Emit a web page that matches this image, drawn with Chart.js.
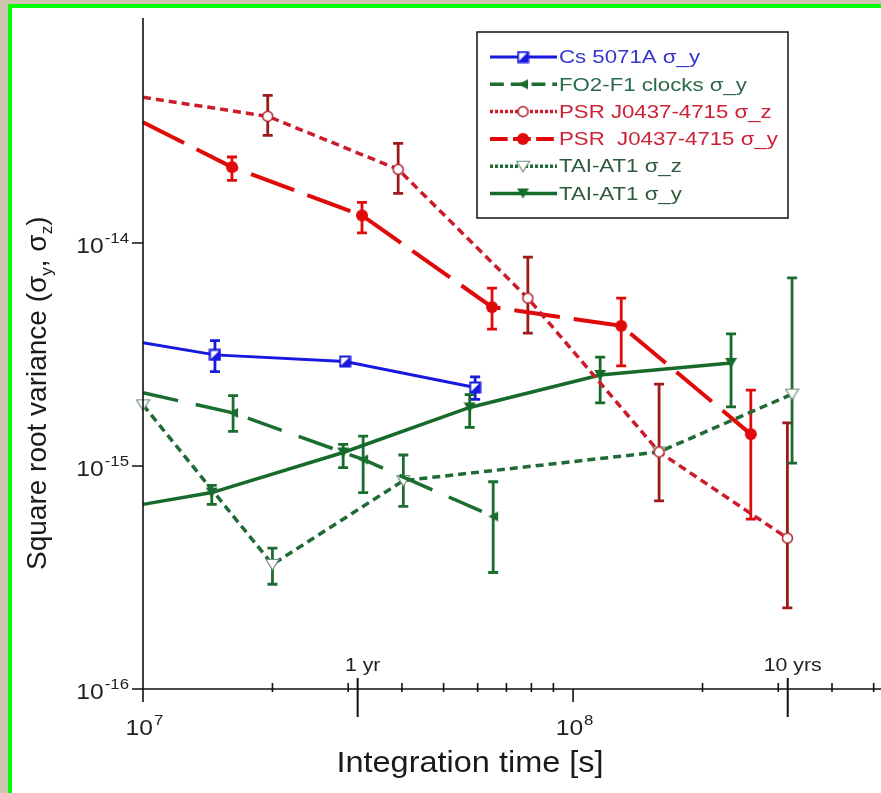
<!DOCTYPE html>
<html>
<head>
<meta charset="utf-8">
<title>Square root variance vs integration time</title>
<script src="https://cdn.jsdelivr.net/npm/chart.js@4.4.1/dist/chart.umd.min.js"></script>
<style>
	html, body { margin: 0; padding: 0; background: #cdc5ae; }
	#frame {
		position: absolute; left: 8px; top: 4px; width: 873px; height: 789px;
		box-sizing: border-box; background: #fff;
		border-left: 4px solid #00ff00; border-top: 4px solid #00ff00;
	}
	#plot { position: absolute; left: 0; top: 0; }
</style>
</head>
<body>
<div id="frame"></div>
<canvas id="plot" width="881" height="793"></canvas>
<script>
// integration time [s] and square root variance for each curve
const csX = [ 1e7, 1.47e7, 2.95e7, 5.92e7 ]
const csY = [ 3.57e-15, 3.15e-15, 2.94e-15, 2.25e-15 ]
const csLow = [ null, 2.65e-15, null, 1.99e-15 ]
const csHigh = [ null, 3.65e-15, null, 2.51e-15 ]

const fo2X = [ 1e7, 1.62e7, 3.25e7, 6.52e7 ]
const fo2Y = [ 2.13e-15, 1.73e-15, 1.07e-15, 5.94e-16 ]
const fo2Low = [ null, 1.43e-15, 7.6e-16, 3.33e-16 ]
const fo2High = [ null, 2.07e-15, 1.36e-15, 8.5e-16 ]

const psrZX = [ 1e7, 1.95e7, 3.92e7, 7.85e7, 1.585e8, 3.15e8 ]
const psrZY = [ 4.5e-14, 3.7e-14, 2.14e-14, 5.66e-15, 1.156e-15, 4.75e-16 ]
const psrZLow = [ null, 3.04e-14, 1.67e-14, 3.94e-15, 6.97e-16, 2.31e-16 ]
const psrZHigh = [ null, 4.59e-14, 2.8e-14, 8.65e-15, 2.33e-15, 1.56e-15 ]

const psrYX = [ 1e7, 1.61e7, 3.23e7, 6.48e7, 1.294e8, 2.59e8 ]
const psrYY = [ 3.48e-14, 2.19e-14, 1.33e-14, 5.16e-15, 4.25e-15, 1.39e-15 ]
const psrYLow = [ null, 1.91e-14, 1.11e-14, 4.11e-15, 2.81e-15, 5.78e-16 ]
const psrYHigh = [ null, 2.43e-14, 1.52e-14, 6.28e-15, 5.66e-15, 2.19e-15 ]

const taiZX = [ 1e7, 2.0e7, 4.03e7, 1.585e8, 3.23e8 ]
const taiZY = [ 1.88e-15, 3.62e-16, 8.6e-16, 1.156e-15, 2.1e-15 ]
const taiZLow = [ null, 2.95e-16, 6.59e-16, null, 1.03e-15 ]
const taiZHigh = [ null, 4.28e-16, 1.12e-15, null, 6.97e-15 ]

const taiYX = [ 1e7, 1.445e7, 2.92e7, 5.75e7, 1.156e8, 2.33e8 ]
const taiYY = [ 6.73e-16, 7.6e-16, 1.15e-15, 1.83e-15, 2.56e-15, 2.9e-15 ]
const taiYLow = [ null, 6.73e-16, 9.84e-16, 1.49e-15, 1.92e-15, 1.84e-15 ]
const taiYHigh = [ null, 8.19e-16, 1.25e-15, 2.09e-15, 3.08e-15, 3.91e-15 ]

// axis ticks
const xMajorTicks = [ 1e7, 1e8 ]
const xMinorTicks = [ 2e7, 3e7, 4e7, 5e7, 6e7, 7e7, 8e7, 9e7, 2e8, 3e8, 4e8, 5e8 ]
const yTicks = [ 1e-16, 1e-15, 1e-14 ]
const yearTicks = [ 3.156e7, 3.156e8 ]
const yearLabels = [ '1 yr', '10 yrs' ]

const FONT = '"Liberation Sans", Arial, sans-serif'
const WIDEN = 1.12 // horizontal text is drawn a little wide

const makeMarker = (w, h, draw) => {
	const c = document.createElement( 'canvas' )
	c.width = w
	c.height = h
	draw( c.getContext( '2d' ), w, h )
	return c
}

const csMarker = makeMarker( 13, 13, (g) => {
	g.fillStyle = '#fff'
	g.fillRect( 1, 1, 11, 11 )
	g.fillStyle = '#1818e0'
	g.beginPath()
	g.moveTo( 12, 1 ); g.lineTo( 12, 12 ); g.lineTo( 1, 12 ); g.closePath()
	g.fill()
	g.strokeStyle = '#1818e0'
	g.lineWidth = 2
	g.strokeRect( 1.5, 1.5, 10, 10 )
} )
const fo2Marker = makeMarker( 12, 12, (g) => {
	g.fillStyle = '#1a6e30'
	g.beginPath()
	g.moveTo( 1, 6 ); g.lineTo( 11, 1 ); g.lineTo( 11, 11 ); g.closePath()
	g.fill()
} )
const psrZMarker = makeMarker( 13, 13, (g) => {
	g.fillStyle = '#fff'
	g.strokeStyle = '#b0202a'
	g.lineWidth = 1.5
	g.beginPath()
	g.arc( 6.5, 6.5, 5, 0, Math.PI * 2 )
	g.fill()
	g.stroke()
} )
const psrYMarker = makeMarker( 14, 14, (g) => {
	g.fillStyle = '#e00a0a'
	g.beginPath()
	g.arc( 7, 7, 6, 0, Math.PI * 2 )
	g.fill()
} )
const taiZMarker = makeMarker( 15, 13, (g) => {
	g.fillStyle = '#fff'
	g.strokeStyle = '#6f8f76'
	g.lineWidth = 1.2
	g.beginPath()
	g.moveTo( 1, 1.5 ); g.lineTo( 14, 1.5 ); g.lineTo( 7.5, 12 ); g.closePath()
	g.fill()
	g.stroke()
} )
const taiYMarker = makeMarker( 13, 12, (g) => {
	g.fillStyle = '#166b2a'
	g.beginPath()
	g.moveTo( 0.5, 1 ); g.lineTo( 12.5, 1 ); g.lineTo( 6.5, 11 ); g.closePath()
	g.fill()
} )

const points = (xs, ys) => xs.map( (x, i) => ({ x, y: ys[i] }) )
// the curves enter from the left edge; their first point has no marker
const hideFirst = (r) => (ctx) => ctx.dataIndex === 0 ? 0 : r

const datasets = [
	{
		label: 'Cs 5071A σ_y',
		data: points( csX, csY ),
		borderColor: '#1818e0',
		borderWidth: 3,
		pointStyle: csMarker,
		pointRadius: hideFirst( 6 ),
		errLow: csLow, errHigh: csHigh, errColor: '#1818e0',
		legendColor: '#3535d0'
	},
	{
		label: 'FO2-F1 clocks σ_y',
		data: points( fo2X, fo2Y ),
		borderColor: '#1a6e30',
		borderWidth: 3.5,
		borderDash: [ 36, 18 ],
		pointStyle: fo2Marker,
		pointRadius: hideFirst( 6 ),
		errLow: fo2Low, errHigh: fo2High, errColor: '#1a6e30',
		legendColor: '#2a6a4a'
	},
	{
		label: 'PSR J0437-4715 σ_z',
		data: points( psrZX, psrZY ),
		borderColor: '#cc1c2c',
		borderWidth: 3.5,
		borderDash: [ 8, 5 ],
		pointStyle: psrZMarker,
		pointRadius: hideFirst( 6 ),
		errLow: psrZLow, errHigh: psrZHigh, errColor: '#9c1a1a',
		legendColor: '#cc2233'
	},
	{
		label: 'PSR  J0437-4715 σ_y',
		data: points( psrYX, psrYY ),
		borderColor: '#e00a0a',
		borderWidth: 4,
		borderDash: [ 46, 14 ],
		pointStyle: psrYMarker,
		pointRadius: hideFirst( 6 ),
		errLow: psrYLow, errHigh: psrYHigh, errColor: '#e00a0a',
		legendColor: '#cc2233'
	},
	{
		label: 'TAI-AT1 σ_z',
		data: points( taiZX, taiZY ),
		borderColor: '#1f6a35',
		borderWidth: 3.5,
		borderDash: [ 8, 5 ],
		pointStyle: taiZMarker,
		pointRadius: 6,
		errLow: taiZLow, errHigh: taiZHigh, errColor: '#1f6a35',
		legendColor: '#2f5a3a'
	},
	{
		label: 'TAI-AT1 σ_y',
		data: points( taiYX, taiYY ),
		borderColor: '#166b2a',
		borderWidth: 3.5,
		pointStyle: taiYMarker,
		pointRadius: hideFirst( 6 ),
		errLow: taiYLow, errHigh: taiYHigh, errColor: '#166b2a',
		legendColor: '#2f5a3a'
	}
]

const errorBars = {
	id: 'errorBars',
	beforeDatasetsDraw (chart) {
		const { ctx, scales: { x, y } } = chart
		datasets.forEach( (ds) => {
			ctx.save()
			ctx.strokeStyle = ds.errColor
			ctx.lineWidth = 2.8
			ds.data.forEach( (p, i) => {
				const lo = ds.errLow[i]
				const hi = ds.errHigh[i]
				if (lo == null) return
				const px = x.getPixelForValue( p.x )
				const y1 = y.getPixelForValue( hi )
				const y2 = y.getPixelForValue( lo )
				ctx.beginPath()
				ctx.moveTo( px, y1 ); ctx.lineTo( px, y2 )
				ctx.moveTo( px - 5, y1 ); ctx.lineTo( px + 5, y1 )
				ctx.moveTo( px - 5, y2 ); ctx.lineTo( px + 5, y2 )
				ctx.stroke()
			} )
			ctx.restore()
		} )
	}
}

// text stretched sideways, anchored at its left end
const wideText = (ctx, t, x, y, k = WIDEN) => {
	ctx.save()
	ctx.translate( x, y )
	ctx.scale( k, 1 )
	ctx.textAlign = 'left'
	ctx.fillText( t, 0, 0 )
	ctx.restore()
	return ctx.measureText( t ).width * k
}
const wideWidth = (ctx, t, k = WIDEN) => ctx.measureText( t ).width * k

// draws "10" with a raised exponent
const drawPower = (ctx, v, xPos, yPos, align) => {
	const exp = String( Math.round( Math.log10( v ) ) )
	ctx.font = '22px ' + FONT
	const bw = wideWidth( ctx, '10' )
	ctx.font = '15px ' + FONT
	const sw = wideWidth( ctx, exp )
	let left = align === 'right' ? xPos - bw - sw : xPos - (bw + sw) / 2
	ctx.textBaseline = 'alphabetic'
	ctx.font = '22px ' + FONT
	wideText( ctx, '10', left, yPos )
	ctx.font = '15px ' + FONT
	wideText( ctx, exp, left + bw + 1, yPos - 10 )
}

const frame = {
	id: 'frame',
	afterDraw (chart) {
		const { ctx, chartArea: a, scales: { x, y } } = chart
		ctx.save()
		ctx.strokeStyle = '#111'
		ctx.fillStyle = '#222'
		ctx.lineWidth = 1.6
		ctx.beginPath()
		ctx.moveTo( a.left, a.top - 2 ); ctx.lineTo( a.left, a.bottom )
		ctx.lineTo( a.right, a.bottom )
		yTicks.forEach( (v) => {
			const py = y.getPixelForValue( v )
			ctx.moveTo( a.left - 11, py ); ctx.lineTo( a.left, py )
		} )
		xMajorTicks.forEach( (v) => {
			const px = x.getPixelForValue( v )
			ctx.moveTo( px, a.bottom ); ctx.lineTo( px, a.bottom + 13 )
		} )
		xMinorTicks.forEach( (v) => {
			const px = x.getPixelForValue( v )
			ctx.moveTo( px, a.bottom - 6 ); ctx.lineTo( px, a.bottom + 3 )
		} )
		ctx.stroke()

		ctx.lineWidth = 2
		ctx.beginPath()
		yearTicks.forEach( (v) => {
			const px = x.getPixelForValue( v )
			ctx.moveTo( px, a.bottom - 11 ); ctx.lineTo( px, a.bottom + 28 )
		} )
		ctx.stroke()

		yTicks.forEach( (v) => drawPower( ctx, v, a.left - 15, y.getPixelForValue( v ) + 10, 'right' ) )
		xMajorTicks.forEach( (v) => drawPower( ctx, v, x.getPixelForValue( v ) + 1, a.bottom + 46, 'center' ) )

		ctx.font = '19px ' + FONT
		ctx.textBaseline = 'alphabetic'
		yearTicks.forEach( (v, i) => {
			const w = wideWidth( ctx, yearLabels[i] )
			wideText( ctx, yearLabels[i], x.getPixelForValue( v ) + 5 - w / 2, a.bottom - 18 )
		} )

		// axis titles
		ctx.fillStyle = '#1a1a1a'
		ctx.font = '29px ' + FONT
		const tw = wideWidth( ctx, 'Integration time [s]' )
		wideText( ctx, 'Integration time [s]', 470 - tw / 2, 772 )

		ctx.save()
		ctx.translate( 46, 570 )
		ctx.rotate( -Math.PI / 2 )
		ctx.textAlign = 'left'
		let cx = 0
		const part = (t, size, dy) => {
			ctx.font = size + 'px ' + FONT
			ctx.fillText( t, cx, dy )
			cx += ctx.measureText( t ).width
		}
		part( 'Square root variance (σ', 28, 0 )
		part( 'y', 17, 6 )
		part( ', σ', 28, 0 )
		part( 'z', 17, 6 )
		part( ')', 28, 0 )
		ctx.restore()

		// legend box
		const lx = 477, ly = 32, lw = 311, lh = 186
		ctx.fillStyle = '#fff'
		ctx.fillRect( lx, ly, lw, lh )
		ctx.strokeStyle = '#111'
		ctx.lineWidth = 1.5
		ctx.strokeRect( lx, ly, lw, lh )
		ctx.font = '19px ' + FONT
		ctx.textBaseline = 'middle'
		datasets.forEach( (ds, i) => {
			const ry = 57 + i * 27.3
			ctx.save()
			ctx.strokeStyle = ds.borderColor
			ctx.lineWidth = ds.borderWidth
			ctx.setLineDash( ds.borderDash ? ds.borderDash.map( (d) => d / 2.6 ) : [] )
			ctx.beginPath()
			ctx.moveTo( 490, ry ); ctx.lineTo( 557, ry )
			ctx.stroke()
			ctx.restore()
			const m = ds.pointStyle
			ctx.drawImage( m, 523 - m.width / 2, ry - m.height / 2 )
			ctx.fillStyle = ds.legendColor
			wideText( ctx, ds.label, 559, ry + 1, 1.17 )
		} )
		ctx.restore()
	}
}

const plot = document.getElementById( 'plot' )
new Chart( plot, {
	type: 'scatter',
	data: {
		datasets: datasets.map( (ds) => Object.assign( { showLine: true, tension: 0, fill: false, clip: false }, ds ) )
	},
	options: {
		responsive: false,
		devicePixelRatio: 1,
		animation: false,
		layout: {
			autoPadding: false,
			padding: { left: 143, top: 20, right: 0, bottom: 104 }
		},
		plugins: {
			legend: { display: false },
			tooltip: { enabled: false }
		},
		scales: {
			x: { type: 'logarithmic', min: 1e7, max: 5.2e8, display: false },
			y: { type: 'logarithmic', min: 1e-16, max: 1e-13, display: false }
		}
	},
	plugins: [ errorBars, frame ]
} )
</script>
</body>
</html>
